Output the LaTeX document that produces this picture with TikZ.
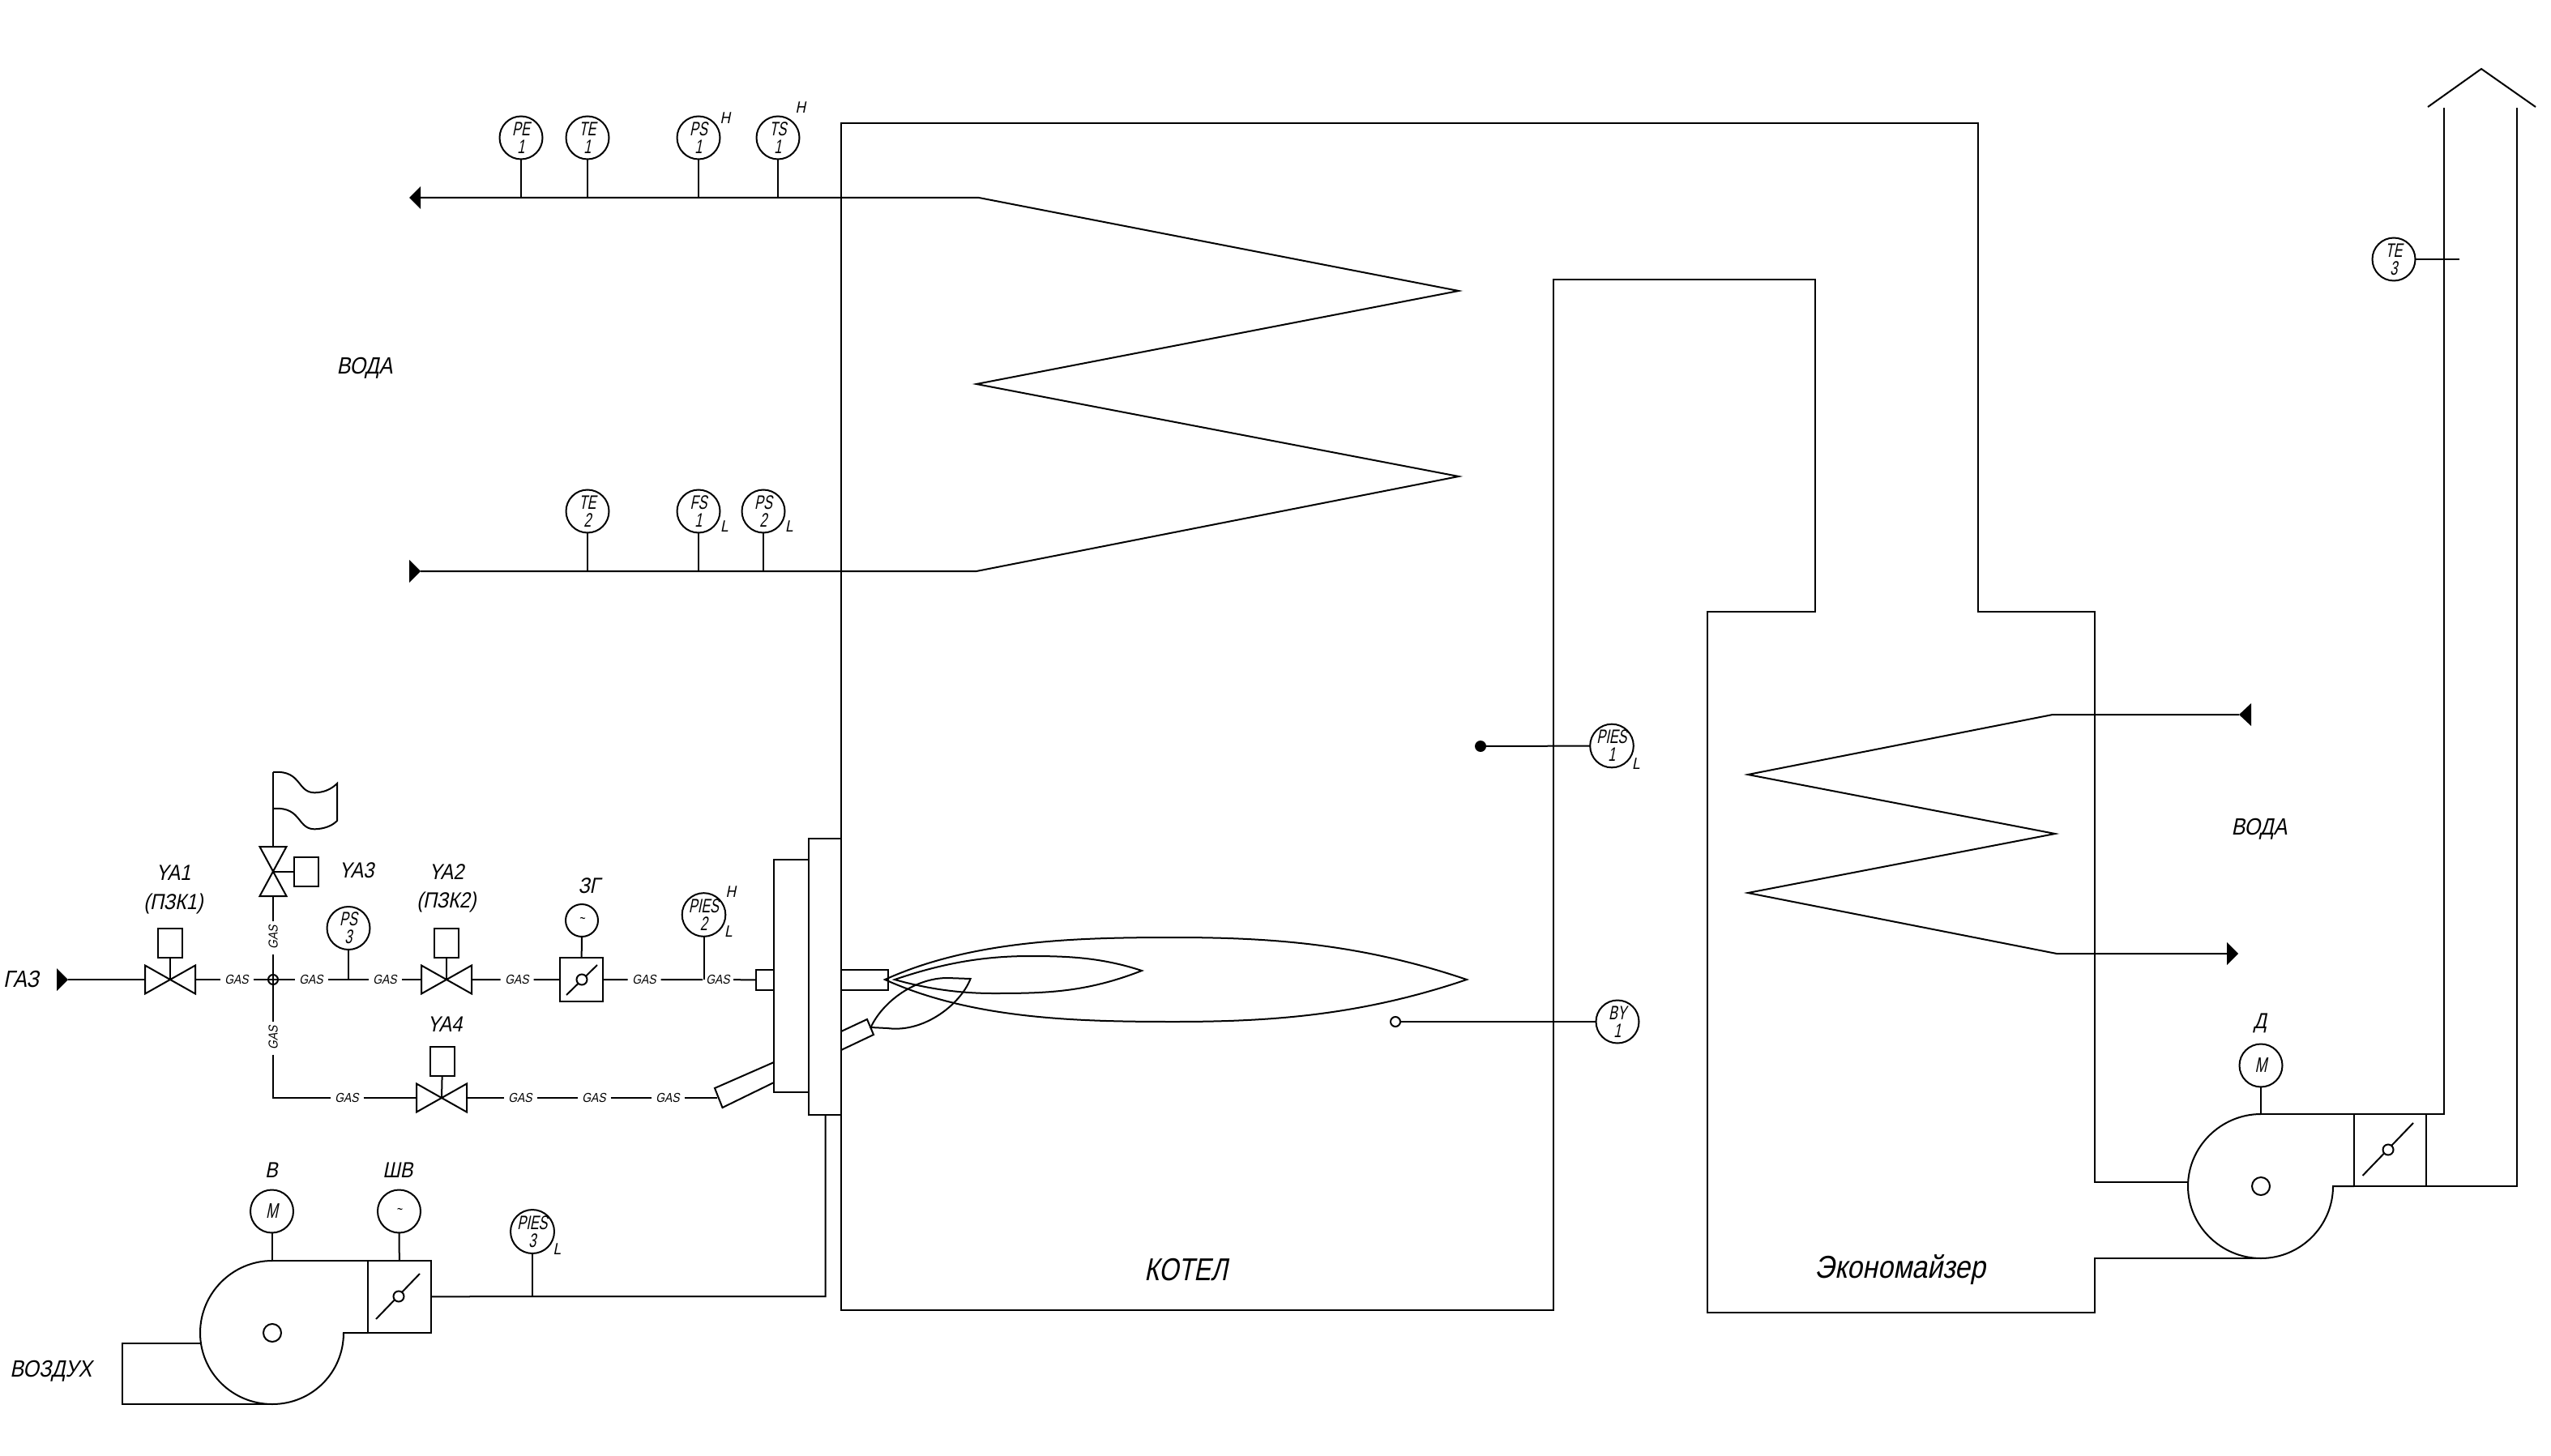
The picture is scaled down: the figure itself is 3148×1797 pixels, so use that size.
\documentclass[tikz,border=0pt]{standalone}
\usepackage{fontspec}
\setmainfont{Liberation Sans}
\newfontfamily\cadnarrow[FakeSlant=0.2,FakeStretch=0.68]{Liberation Sans}
\newfontfamily\cadwide[FakeSlant=0.2,FakeStretch=0.8]{Liberation Sans}
\newfontfamily\cadtag[FakeSlant=0.2,FakeStretch=0.87]{Liberation Sans}
\tikzset{
  every node/.style={inner sep=0pt,outer sep=0pt},
  ln/.style={line width=1pt,line join=miter},
  instr/.style={circle,draw,line width=1pt,minimum size=26.5pt,align=center,
    font=\cadnarrow\fontsize{12}{11}\selectfont},
  motor/.style={circle,draw,line width=1pt,minimum size=26.5pt,font=\cadnarrow\fontsize{13}{13}\selectfont},
  smallinstr/.style={circle,draw,line width=1pt,minimum size=20pt,font=\cadnarrow\fontsize{9}{9}\selectfont},
  tag/.style={font=\cadtag\fontsize{13.5}{14}\selectfont},
  lim/.style={font=\cadtag\fontsize{10}{10}\selectfont},
  bigtag/.style={font=\cadtag\fontsize{14.5}{15}\selectfont},
  hugetag/.style={font=\cadwide\fontsize{19.5}{20}\selectfont},
  ecotag/.style={font=\cadtag\fontsize{19.5}{20}\selectfont},
  gaslabel/.style={rectangle,minimum width=20.5pt,minimum height=8pt,font=\cadtag\fontsize{8}{8}\selectfont},
  vbody/.style={rectangle,minimum width=31pt,minimum height=17.5pt},
  actbox/.style={rectangle,draw,line width=1pt,minimum width=15pt,minimum height=18pt},
  dmpbox/.style={rectangle,draw,line width=1pt},
  hub/.style={circle,draw,line width=1pt,minimum size=6pt},
  pivot/.style={circle,draw,fill=white,line width=1pt,minimum size=6.5pt},
  opendot/.style={circle,draw,fill=white,line width=1pt,minimum size=6pt},
  fulldot/.style={circle,fill=black,minimum size=7pt},
}
\newcommand{\valvetie}[1]{\draw[ln] (#1.south west) -- (#1.north east) -- (#1.south east) -- (#1.north west) -- cycle;}
\begin{document}
\begin{tikzpicture}[x=0.5pt,y=-0.5pt]
\useasboundingbox (0,0) rectangle (3148,1797);

% ---- boiler and economizer outline
\draw[ln] (2700,1459) -- (2585,1459) -- (2585,755) -- (2441,755) -- (2441,152) -- (1038,152)
  -- (1038,1617) -- (1917,1617) -- (1917,345) -- (2240,345) -- (2240,755) -- (2107,755)
  -- (2107,1620) -- (2585,1620) -- (2585,1553) -- (2790,1553);

% ---- upper coil
\coordinate (wa) at (519,244);
\coordinate (wb) at (519,705);
\fill (505,244) -- (519,230) -- (519,258) -- cycle;
\fill (505,691) -- (519,705) -- (505,719) -- cycle;
\draw[ln] (wa) -- (1208,244) -- (1800,359) -- (1205,474) -- (1800,588) -- (1205,705) -- (wb);

\coordinate (j1) at (643,244);
\coordinate (j2) at (725,244);
\coordinate (j3) at (862,244);
\coordinate (j4) at (960,244);
\coordinate (j5) at (725,705);
\coordinate (j6) at (862,705);
\coordinate (j7) at (942,705);
\node[instr] (pe1) at (643,170) {PE\\1};
\node[instr] (te1) at (725,170) {TE\\1};
\node[instr] (ps1) at (862,170) {PS\\1};
\node[instr] (ts1) at (960,170) {TS\\1};
\node[instr] (te2) at (725,631) {TE\\2};
\node[instr] (fs1) at (862,631) {FS\\1};
\node[instr] (ps2) at (942,631) {PS\\2};
\foreach \a/\b in {pe1/j1,te1/j2,ps1/j3,ts1/j4,te2/j5,fs1/j6,ps2/j7} \draw[ln] (\a) -- (\b);
\node[lim] (hps1) at (895,146) {H};
\node[lim] (hts1) at (988,133) {H};
\node[lim] (lfs1) at (894,650) {L};
\node[lim] (lps2) at (974,650) {L};
\node[bigtag] (wleft) at (450,454) {ВОДА};

% ---- gas main
\node[bigtag] (gaz) at (26,1209) {ГАЗ};
\fill (70,1195) -- (84,1209) -- (70,1223) -- cycle;
\coordinate (a0) at (84,1209);
\node[vbody] (v1) at (210,1209) {}; \valvetie{v1}
\node[actbox] (a1) at (210,1163.5) {};
\draw[ln] (a1) -- (v1.center);
\node[tag] (ya1) at (214,1077) {YA1};
\node[tag] (pz1) at (214,1116) {(ПЗК1)};

\node[gaslabel] (g1) at (292,1209) {GAS};
\node[hub] (cross) at (337,1209) {};
\node[gaslabel] (g2) at (384,1209) {GAS};
\node[gaslabel] (g3) at (475,1209) {GAS};
\node[vbody] (v2) at (551,1209) {}; \valvetie{v2}
\node[actbox] (a2) at (551,1164) {};
\draw[ln] (a2) -- (v2.center);
\node[tag] (ya2) at (551,1076) {YA2};
\node[tag] (pz2) at (551,1114) {(ПЗК2)};
\node[gaslabel] (g4) at (638,1209) {GAS};
\node[dmpbox,minimum width=26.5pt,minimum height=27pt] (d1) at (717.5,1209) {};
\draw[ln] (737,1191) -- (699,1228);
\node[pivot] (p1) at (718,1209) {};
\node[smallinstr] (s1) at (718,1136) {\textasciitilde};
\draw[ln] (s1) -- (d1);
\node[tag] (zg) at (727,1093) {ЗГ};
\node[gaslabel] (g5) at (795,1209) {GAS};
\node[gaslabel,minimum width=19pt] (g6) at (886,1209) {GAS};
\node[rectangle,draw,line width=1pt,minimum width=11pt,minimum height=12.5pt] (sb) at (944,1209.5) {};
\draw[ln] (a0) -- (v1);
\draw[ln] (v1) -- (g1) -- (cross.center) -- (g2) -- (g3) -- (v2);
\draw[ln] (v2) -- (g4) -- (d1) -- (g5) -- (g6) -- (sb);

\coordinate (j8) at (430,1209);
\coordinate (j9) at (868.5,1209);
\node[instr] (ps3) at (430,1145.5) {PS\\3};
\node[instr] (pies2) at (868.5,1129) {PIES\\2};
\draw[ln] (ps3) -- (j8);
\draw[ln] (pies2) -- (j9);
\node[lim] (hp2) at (902,1101) {H};
\node[lim] (lp2) at (899,1150) {L};

% ---- branch up to the candle
\node[gaslabel,rotate=90] (g11) at (337,1157) {GAS};
\node[gaslabel,rotate=90] (g12) at (337,1281) {GAS};
\node[vbody,minimum width=30.5pt,minimum height=16.5pt,rotate=90] (v3) at (337,1075.5) {}; \valvetie{v3}
\node[actbox] (a3) at (378,1075.5) {};
\draw[ln] (a3) -- (v3.center);
\node[tag] (ya3) at (440,1074) {YA3};
\draw[ln] (cross.center) -- (g11) -- (v3);
\coordinate (ftop) at (337,953);
\coordinate (fmid) at (337,998);
\draw[ln] (v3) -- (fmid) -- (ftop);
\draw[ln] (ftop) .. controls (375,950) and (365,982) .. (393,978) .. controls (402,977) and (410,973) .. (416,967)
  -- (416,1013) .. controls (410,1019) and (402,1022) .. (393,1023) .. controls (365,1027) and (375,995) .. (fmid);

% ---- second gas line
\coordinate (lc) at (337,1355);
\node[gaslabel] (g7) at (428,1355) {GAS};
\node[vbody] (v4) at (545,1355) {}; \valvetie{v4}
\node[actbox] (a4) at (546,1310) {};
\draw[ln] (a4) -- (v4.center);
\node[tag] (ya4) at (549,1264) {YA4};
\node[gaslabel] (g8) at (642,1355) {GAS};
\node[gaslabel] (g9) at (733,1355) {GAS};
\node[gaslabel] (g10) at (824,1355) {GAS};
\coordinate (tb) at (885,1355);
\draw[ln] (cross.center) -- (g12) -- (lc) -- (g7) -- (v4);
\draw[ln] (v4) -- (g8) -- (g9) -- (g10) -- (tb);

% ---- burner
\draw[ln] (955,1061) rectangle (998,1348);
\draw[ln] (998,1035) rectangle (1038,1376);
\draw[ln] (1038,1197) -- (1095.5,1197) -- (1095.5,1222) -- (1038,1222);
\draw[ln] (955,1311) -- (882,1343) -- (891.5,1367) -- (955,1336);
\draw[ln] (1038,1273) -- (1070,1258) -- (1078,1277) -- (1038,1296);
% flames
\draw[ln] (1092,1209) .. controls (1200,1160) and (1330,1157) .. (1449,1157)
  .. controls (1570,1157) and (1680,1165) .. (1810,1209)
  .. controls (1680,1253) and (1570,1261) .. (1449,1261)
  .. controls (1330,1261) and (1200,1258) .. cycle;
\draw[ln] (1104,1209) .. controls (1160,1190) and (1210,1180) .. (1271,1180)
  .. controls (1320,1180) and (1360,1182) .. (1409,1198)
  .. controls (1340,1225) and (1290,1226) .. (1226,1226)
  .. controls (1190,1226) and (1150,1222) .. cycle;
\draw[ln] (1074.5,1268) .. controls (1090,1235) and (1130,1207) .. (1169,1207) -- (1197.6,1208)
  .. controls (1185,1240) and (1140,1275) .. (1095,1269) -- cycle;

% ---- air fan
\draw[ln] (336,1556) .. controls (287,1556) and (247,1596) .. (247,1645)
  .. controls (247,1694) and (287,1733) .. (336,1733)
  .. controls (385,1733) and (424,1694) .. (424,1645) -- (454,1645);
\draw[ln] (336,1556) -- (454,1556);
\draw[ln] (248,1658) -- (151,1658) -- (151,1733) -- (336,1733);
\node[circle,draw,line width=1pt,minimum size=11pt] (fc1) at (336,1645) {};
\node[dmpbox,minimum width=39pt,minimum height=44.5pt] (d2) at (493,1600.5) {};
\draw[ln] (518,1572) -- (464,1628);
\node[pivot] (p2) at (492,1600) {};
\coordinate (fanstem) at (335.5,1556);
\node[motor] (m1) at (335.5,1495) {M};
\node[smallinstr,minimum size=26.5pt] (s2) at (492.5,1495) {\textasciitilde};
\draw[ln] (m1) -- (fanstem);
\draw[ln] (s2) -- (d2);
\node[tag] (bv) at (335,1444) {В};
\node[tag] (shv) at (491,1444) {ШВ};
\coordinate (j10) at (657,1600);
\coordinate (ductc) at (1018.6,1600);
\coordinate (ducte) at (1018.6,1376);
\draw[ln] (d2) -- (j10) -- (ductc) -- (ducte);
\node[instr] (pies3) at (657,1520) {PIES\\3};
\draw[ln] (pies3) -- (j10);
\node[lim] (lp3) at (687.5,1542) {L};
\node[bigtag] (air) at (63,1692) {ВОЗДУХ};

% ---- furnace instruments
\node[fulldot] (dot1) at (1827,921) {};
\node[instr] (pies1) at (1989,920.5) {PIES\\1};
\draw[ln] (dot1) -- (pies1);
\node[lim] (lp1) at (2019,943) {L};
\node[opendot] (dot2) at (1722,1261) {};
\node[instr] (by1) at (1996,1261) {BY\\1};
\draw[ln] (dot2) -- (by1);
\node[hugetag] (kot) at (1464,1567) {КОТЕЛ};
\node[ecotag] (eco) at (2345,1567) {Экономайзер};

% ---- economizer coil
\coordinate (wc) at (2763,882);
\coordinate (wd) at (2748,1177);
\fill (2763,882) -- (2778,868) -- (2778,896) -- cycle;
\fill (2748,1163) -- (2762,1177) -- (2748,1191) -- cycle;
\draw[ln] (wc) -- (2533,882) -- (2157,956) -- (2536,1029) -- (2157,1102) -- (2538,1177) -- (wd);
\node[bigtag] (wright) at (2788,1023) {ВОДА};

% ---- flue fan and stack
\draw[ln] (2790,1375) .. controls (2741,1375) and (2700,1415) .. (2700,1464)
  .. controls (2700,1513) and (2741,1553) .. (2790,1553)
  .. controls (2839,1553) and (2879,1513) .. (2879,1464) -- (2905,1464);
\draw[ln] (2790,1375) -- (2905,1375);
\node[circle,draw,line width=1pt,minimum size=11pt] (fc2) at (2790,1464) {};
\node[dmpbox,minimum width=44.25pt,minimum height=44.5pt] (d3) at (2949.25,1419.5) {};
\draw[ln] (2978,1386) -- (2915.5,1451);
\node[pivot] (p3) at (2947,1419) {};
\coordinate (fanstem2) at (2790,1375);
\node[motor] (m2) at (2790,1315) {M};
\draw[ln] (m2) -- (fanstem2);
\node[tag] (dd) at (2789,1263) {Д};
\draw[ln] (2993.5,1375) -- (3016,1375) -- (3016,133);
\draw[ln] (2993.5,1464) -- (3106,1464) -- (3106,133);
\draw[ln] (2996,132) -- (3062,85) -- (3129,132);
\node[instr] (te3) at (2954,320) {TE\\3};
\coordinate (te3e) at (3035,320);
\draw[ln] (te3) -- (te3e);
\end{tikzpicture}
\end{document}
